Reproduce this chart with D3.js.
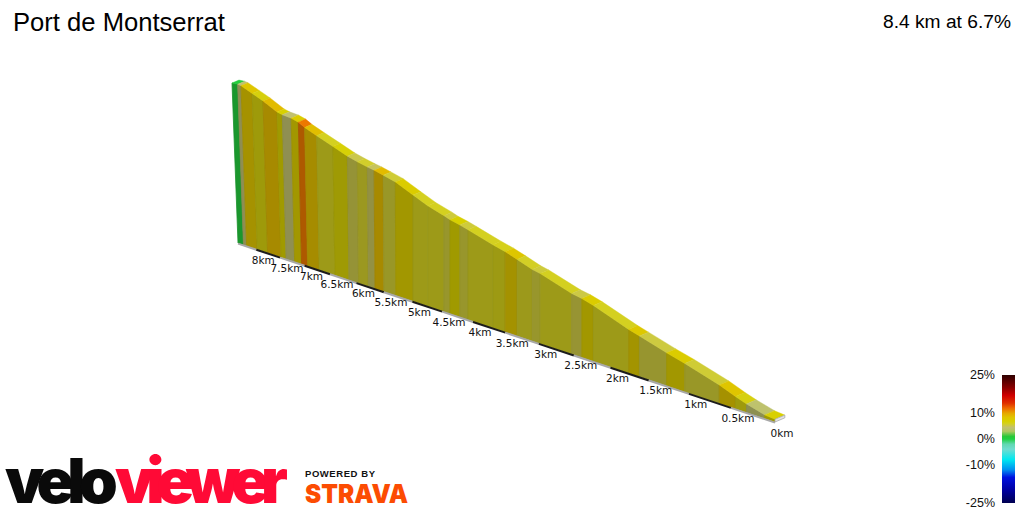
<!DOCTYPE html>
<html>
<head>
<meta charset="utf-8">
<script src="https://cdn.jsdelivr.net/npm/d3@7"></script>
<style>
  html, body { margin: 0; padding: 0; background: #fff; }
  svg { display: block; }
  text { font-family: "Liberation Sans", Arial, sans-serif; }
  .km { font-family: "DejaVu Sans", sans-serif; font-size: 10.5px; fill: #111; }
  .mark { font-family: Inter, "Liberation Sans", sans-serif; font-weight: 900; }
</style>
</head>
<body>
<svg id="chart" width="1024" height="512"></svg>
<script>
const title = "Port de Montserrat";
const summary = "8.4 km at 6.7%";

// Climb profile, far end first: distance (km) and elevation (m) at each change of gradient.
const distances = [8.4, 8.28, 8.21, 7.98, 7.76, 7.48, 7.375, 7.2, 7.06, 6.94, 6.71, 6.405, 6.14, 5.96, 5.78, 5.66, 5.5, 5.29, 4.99, 4.74, 4.47, 4.37, 4.21, 4.08, 3.69, 3.5, 3.32, 3.095, 2.98, 2.53, 2.39, 2.23, 1.76, 1.62, 1.275, 1.05, 0.636, 0.447, 0.32, 0.114, 0];
const elevations = [570.6, 570.2, 567.6, 548.2, 529.7, 501.6, 495.9, 491.1, 482.8, 469.5, 451.1, 427.4, 406.8, 396.2, 387.3, 381.9, 373.2, 361.3, 333.8, 312.4, 295.5, 287.9, 280.2, 272.1, 247.8, 237.5, 224.9, 208.2, 202.8, 172.2, 166.4, 156.5, 120.1, 111.1, 88.5, 75.4, 47.9, 31.5, 22, 9.4, 6.8];
// Gradient (%) of the stretch between one distance and the next.
const grades = [0.4, 4.5, 8.3, 6.6, 9, 7, 4.4, 7.5, 11.6, 8.8, 6, 6.8, 5.2, 5.8, 4.9, 9, 5.6, 7.5, 6, 6, 5.5, 7, 5.5, 6, 6.2, 8.2, 5.9, 5.5, 6, 5.3, 7.5, 6, 8, 5.4, 7.5, 5.6, 8.4, 6.5, 4.2, 7];

const kmTicks = [8, 7.5, 7, 6.5, 6, 5.5, 5, 4.5, 4, 3.5, 3, 2.5, 2, 1.5, 1, 0.5, 0];
const legendTicks = [25, 10, 0, -10, -25];

// Colour ramp of the gradient key.
const rampStops = [-25, -20, -15, -12, -8, -4, -2, 0, 1, 3, 4.5, 6, 7, 8.5, 10, 12, 14, 17, 20, 25];
const rampColours = ["#000050", "#0000a0", "#0010e0", "#0090f0", "#00e8f0", "#70dcd0", "#60d8b0", "#20d040", "#28c838", "#b0c860", "#c2c070", "#d4d020", "#d8d000", "#e0c400", "#e6a800", "#ee6c00", "#e03000", "#d00000", "#8a0000", "#2e0000"];

const gradeColour = d3.scaleLinear().domain(rampStops).range(rampColours).interpolate(d3.interpolateRgb);
const wallColour = g => d3.rgb(gradeColour(g)).darker(0.85).formatHex();

const svg = d3.select("#chart");

// Perspective view: everything shrinks with 1 / (distance + eyeOffset).
const eyeOffset = 20.31;
const persp = km => 1 / (km + eyeOffset);
const maxKm = d3.max(distances);
const baseX = d3.scaleLinear().domain([persp(maxKm), persp(0)]).range([238, 775]);
const baseY = d3.scaleLinear().domain([persp(maxKm), persp(0)]).range([243, 422]);
const rise = d3.scaleLinear().domain([0, 600]).range([0, 600 * 8.05]);
const lean = d3.scaleLinear().domain([0, 5, 8.4]).range([0, 0, 0.0375]);
const depthX = d3.scaleLinear().domain([0, 1]).range([0, 200]);
const depthY = d3.scaleLinear().domain([0, 1]).range([0, -85]);

function project(km, elev, back) {
  const p = persp(km);
  const h = rise(elev) * p;
  return [
    baseX(p) - h * lean(km) + back * depthX(p),
    baseY(p) - h + back * depthY(p)
  ];
}
const line = d3.line();

const stretches = grades.map((g, i) => ({
  grade: g,
  km0: distances[i], km1: distances[i + 1],
  e0: elevations[i], e1: elevations[i + 1]
}));

// Side wall under the road
svg.append("g").selectAll("path").data(stretches).join("path")
  .attr("d", d => line([
    project(d.km0, 0, 0), project(d.km1, 0, 0),
    project(d.km1, d.e1, 0), project(d.km0, d.e0, 0)
  ]) + "Z")
  .attr("fill", d => wallColour(d.grade))
  .attr("stroke", d => d3.rgb(wallColour(d.grade)).darker(0.12).formatHex())
  .attr("stroke-width", 0.8);

// Road surface along the top
svg.append("g").selectAll("path").data(stretches).join("path")
  .attr("d", d => line([
    project(d.km0, d.e0, 0), project(d.km1, d.e1, 0),
    project(d.km1, d.e1, 1), project(d.km0, d.e0, 1)
  ]) + "Z")
  .attr("fill", d => gradeColour(d.grade))
  .attr("stroke", d => gradeColour(d.grade))
  .attr("stroke-width", 0.4);

// Near end of the solid
const nearKm = 0, nearElev = elevations[elevations.length - 1];
svg.append("path")
  .attr("d", line([project(nearKm, 0, 0), project(nearKm, 0, 1), project(nearKm, nearElev, 1), project(nearKm, nearElev, 0)]) + "Z")
  .attr("fill", "#e4e4e4").attr("stroke", "#a9a9a9").attr("stroke-width", 0.8);

// Ground line, alternating dark and grey every half kilometre
const groundBreaks = [maxKm].concat(kmTicks);
svg.append("g").selectAll("line").data(groundBreaks.slice(0, -1)).join("line")
  .attr("x1", d => project(d, 0, 0)[0])
  .attr("y1", d => project(d, 0, 0)[1] + 0.6)
  .attr("x2", (d, i) => project(groundBreaks[i + 1], 0, 0)[0])
  .attr("y2", (d, i) => project(groundBreaks[i + 1], 0, 0)[1] + 0.6)
  .attr("stroke", (d, i) => i % 2 === 1 ? "#1c1c1c" : "#a8a8a8")
  .attr("stroke-width", 2);

// Distance labels
svg.append("g").selectAll("text").data(kmTicks).join("text")
  .attr("class", "km")
  .attr("text-anchor", "middle")
  .attr("x", d => project(d, 0, 0)[0] + 7)
  .attr("y", d => project(d, 0, 0)[1] + 14.5)
  .text(d => d + "km");

// Title and summary
svg.append("text").attr("x", 13).attr("y", 31).attr("font-size", 25.6).attr("fill", "#000").text(title);
svg.append("text").attr("x", 1011).attr("y", 28).attr("text-anchor", "end").attr("font-size", 19.2).attr("fill", "#000").text(summary);

// Gradient key
const keyY = d3.scaleLinear().domain([25, -25]).range([375, 503]);
const defs = svg.append("defs");
const grad = defs.append("linearGradient").attr("id", "gradeRamp").attr("x1", 0).attr("x2", 0).attr("y1", 0).attr("y2", 1);
grad.selectAll("stop").data(rampStops.slice().reverse()).join("stop")
  .attr("offset", d => (keyY(d) - keyY(25)) / (keyY(-25) - keyY(25)))
  .attr("stop-color", d => gradeColour(d));
svg.append("rect").attr("x", 1002).attr("y", keyY(25)).attr("width", 13).attr("height", keyY(-25) - keyY(25)).attr("fill", "url(#gradeRamp)");
svg.append("g").selectAll("text").data(legendTicks).join("text")
  .attr("x", 995).attr("y", d => keyY(d) + 4)
  .attr("text-anchor", "end").attr("font-size", 12.5).attr("fill", "#111")
  .text(d => d + "%");

// Wordmarks: tracking is tightened until each word spans its width
function fitTracking(sel, width) {
  const chars = sel.text().length;
  const natural = sel.node().getComputedTextLength();
  sel.attr("letter-spacing", (width - natural) / chars);
}
const logo = svg.append("g");
logo.append("text").attr("class", "mark").attr("x", 5).attr("y", 503).attr("font-size", 62)
  .attr("fill", "#0a0a0a").text("velo").call(fitTracking, 106);
logo.append("text").attr("class", "mark").attr("x", 115).attr("y", 503).attr("font-size", 62)
  .attr("fill", "#ff0a36").text("viewer").call(fitTracking, 165);
logo.append("text").attr("x", 305).attr("y", 477).attr("font-size", 9.5).attr("textLength", 70).attr("lengthAdjust", "spacing")
  .attr("fill", "#111").attr("font-weight", 700).text("POWERED BY");
logo.append("text").attr("class", "mark").attr("x", 305).attr("y", 503).attr("font-size", 26).attr("textLength", 103).attr("lengthAdjust", "spacingAndGlyphs")
  .attr("fill", "#fc4c02").text("STRAVA");
</script>
</body>
</html>
